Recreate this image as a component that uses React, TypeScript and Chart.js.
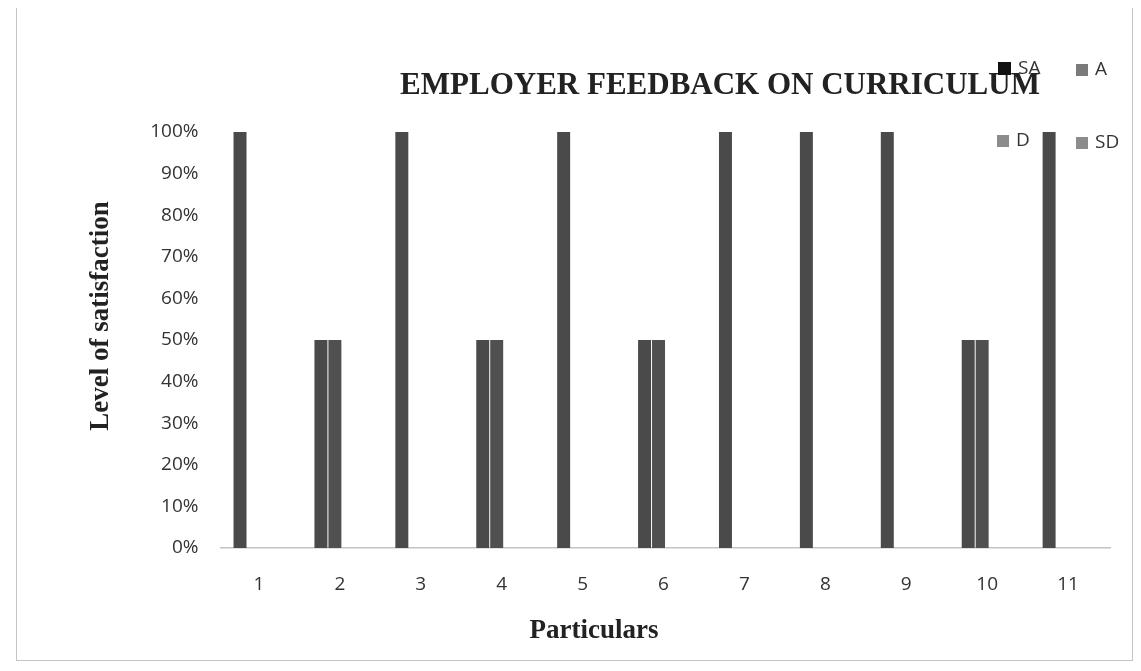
import React, { useEffect, useRef } from "react";
import { Chart, registerables } from "chart.js";

Chart.register(...registerables);

const TITLE = "EMPLOYER FEEDBACK ON CURRICULUM";
const X_TITLE = "Particulars";
const Y_TITLE = "Level of satisfaction";
const CATEGORIES = ["1", "2", "3", "4", "5", "6", "7", "8", "9", "10", "11"];
const SERIES_NAMES = ["SA", "A", "D", "SD"];
const SA = [100, 50, 100, 50, 100, 50, 100, 100, 100, 50, 100];
const A = [0, 50, 0, 50, 0, 50, 0, 0, 0, 50, 0];
const D = [0, 0, 0, 0, 0, 0, 0, 0, 0, 0, 0];
const SD = [0, 0, 0, 0, 0, 0, 0, 0, 0, 0, 0];

const BAR_COLORS = ["#4a4a4a", "#505050", "#7d7d7d", "#8a8a8a"];
const LEGEND_COLORS = ["#111111", "#7a7a7a", "#8c8c8c", "#8c8c8c"];
const LEGEND_POS = [
  { x: 981, y: 54, s: 13 },
  { x: 1059, y: 56, s: 12 },
  { x: 980, y: 127, s: 12 },
  { x: 1059, y: 129, s: 12 },
];

const TICK_FONT = { family: "Open Sans", size: 19 };

const overlay = {
  id: "overlay",
  afterDraw(chart: any) {
    const ctx = chart.ctx as CanvasRenderingContext2D;
    ctx.save();
    // Title
    ctx.font = 'bold 31px "Liberation Serif"';
    ctx.fillStyle = "#222222";
    ctx.textAlign = "center";
    ctx.textBaseline = "alphabetic";
    ctx.fillText(TITLE, 703, 86);

    // Legend
    ctx.font = '19px "Open Sans"';
    ctx.textAlign = "left";
    ctx.textBaseline = "middle";
    chart.data.datasets.forEach((ds: any, i: number) => {
      const p = LEGEND_POS[i];
      ctx.fillStyle = LEGEND_COLORS[i];
      ctx.fillRect(p.x, p.y, p.s, p.s);
      ctx.fillStyle = "#333333";
      ctx.fillText(ds.label, p.x + p.s + 7, p.y + p.s / 2);
    });

    // X axis title
    ctx.font = 'bold 27px "Liberation Serif"';
    ctx.fillStyle = "#222222";
    ctx.textAlign = "center";
    ctx.textBaseline = "alphabetic";
    ctx.fillText(X_TITLE, 577, 630);

    // Y axis title
    ctx.translate(91, 308);
    ctx.rotate(-Math.PI / 2);
    ctx.fillText(Y_TITLE, 0, 0);
    ctx.restore();
  },
};

export default function App() {
  const ref = useRef<HTMLCanvasElement>(null);
  useEffect(() => {
    const seriesData = [SA, A, D, SD];
    const chart = new Chart(ref.current!, {
      type: "bar",
      data: {
        labels: CATEGORIES,
        datasets: SERIES_NAMES.map((name, i) => ({
          label: name,
          data: seriesData[i],
          backgroundColor: BAR_COLORS[i],
          borderWidth: 0,
          categoryPercentage: 0.69,
          barPercentage: 0.93,
        })),
      },
      options: {
        responsive: false,
        animation: false,
        layout: { padding: { left: 83.5, right: 21.5, top: 124, bottom: 42 } },
        plugins: {
          legend: { display: false },
          title: { display: false },
          tooltip: { enabled: false },
        },
        scales: {
          x: {
            grid: { display: false },
            border: { display: true, color: "#c4c4c4", width: 1.5 },
            ticks: { font: TICK_FONT, color: "#333333", padding: 17, labelOffset: -2 },
            afterFit(s: any) {
              s.height = 70;
            },
          },
          y: {
            min: 0,
            max: 100,
            grid: { display: false },
            border: { display: false },
            ticks: {
              stepSize: 10,
              font: TICK_FONT,
              color: "#333333",
              padding: 14,
              callback: (v: any) => v + "%",
            },
            afterFit(s: any) {
              s.width = 120;
            },
          },
        },
      },
      plugins: [overlay],
    });
    return () => chart.destroy();
  }, []);

  return (
    <div
      style={{
        width: 1115,
        height: 652,
        border: "1px solid #c4c4c4",
        marginLeft: 8,
        marginTop: -1,
        background: "#ffffff",
      }}
    >
      <canvas ref={ref} width={1115} height={652} style={{ display: "block" }} />
    </div>
  );
}
